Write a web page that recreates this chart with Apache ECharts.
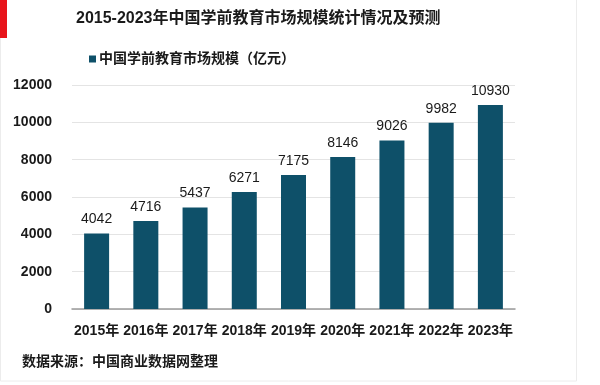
<!DOCTYPE html>
<html>
<head>
<meta charset="utf-8">
<script src="https://cdn.jsdelivr.net/npm/echarts@6/dist/echarts.min.js"></script>
<style>
html,body{margin:0;padding:0;background:#fff;}
#c{width:600px;height:385px;}
</style>
</head>
<body>
<div id="c"></div>
<script>
const categories = ['2015年','2016年','2017年','2018年','2019年','2020年','2021年','2022年','2023年'];
const values = [4042, 4716, 5437, 6271, 7175, 8146, 9026, 9982, 10930];
const seriesName = '中国学前教育市场规模（亿元）';
const titleText = '2015-2023年中国学前教育市场规模统计情况及预测';
const sourceText = '数据来源：中国商业数据网整理';

const FONT = '"Liberation Sans", Arial, "Noto Sans CJK SC", sans-serif';
const chart = echarts.init(document.getElementById('c'), null, {renderer: 'canvas'});
chart.setOption({
  animation: false,
  backgroundColor: '#fff',
  textStyle: {fontFamily: FONT},
  graphic: [
    {type: 'rect', shape: {x: 0.5, y: -1, width: 576, height: 382}, style: {fill: 'none', stroke: '#ececec', lineWidth: 1}},
    {type: 'rect', shape: {x: 0, y: 0, width: 7, height: 38}, style: {fill: '#e8141b'}},
    {type: 'text', left: 76, top: 11, style: {text: titleText, fill: '#1a1a1a', font: 'bold 16px ' + FONT}},
    {type: 'text', left: 22, top: 355, style: {text: sourceText, fill: '#1a1a1a', font: 'bold 14px ' + FONT}}
  ],
  legend: {
    left: 84, top: 47,
    itemWidth: 7, itemHeight: 7,
    itemGap: 4,
    icon: 'rect',
    textStyle: {fontSize: 14, fontWeight: 'bold', color: '#1a1a1a', fontFamily: FONT, padding: [0,0,0,-2]},
    data: [seriesName]
  },
  grid: {left: 72, right: 85, top: 85, bottom: 76, containLabel: false},
  xAxis: {
    type: 'category',
    data: categories,
    axisTick: {show: false},
    axisLine: {lineStyle: {color: '#9a9a9a', width: 1.5}},
    axisLabel: {fontSize: 14, fontWeight: 'bold', color: '#1a1a1a', margin: 15, interval: 0, fontFamily: FONT}
  },
  yAxis: {
    type: 'value',
    min: 0, max: 12000, interval: 2000,
    axisLine: {show: false},
    axisTick: {show: false},
    splitLine: {lineStyle: {color: '#e4e4e4', width: 1}},
    axisLabel: {fontSize: 14, fontWeight: 'bold', color: '#1a1a1a', margin: 20, fontFamily: FONT, formatter: function (v) { return String(v); }}
  },
  series: [{
    name: seriesName,
    type: 'bar',
    data: values,
    barWidth: 25,
    itemStyle: {color: '#0e5069'},
    label: {show: true, position: 'top', distance: 7, fontSize: 14, color: '#1a1a1a', fontFamily: FONT}
  }]
});
</script>
</body>
</html>
